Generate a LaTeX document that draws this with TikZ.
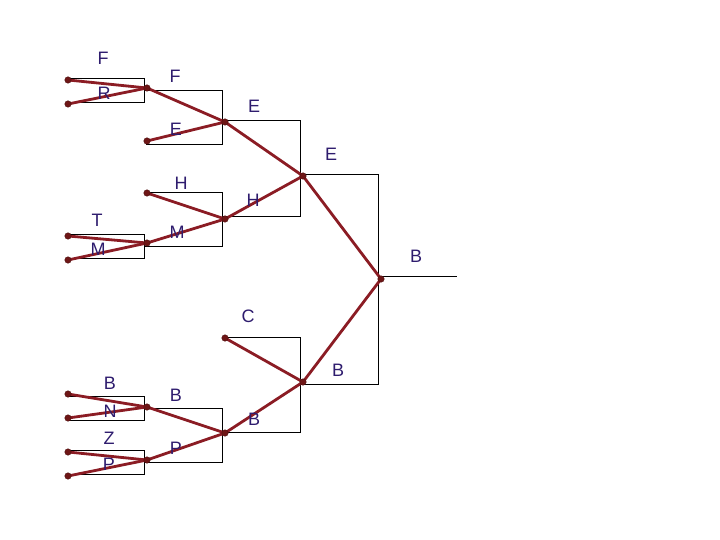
\documentclass[tikz,border=0pt]{standalone}
\usepackage{fontspec}
\setmainfont{Liberation Sans}
\begin{document}
\begin{tikzpicture}[x=1pt,y=-1pt,
  bracket/.style={draw=black,line width=0.8pt},
  redline/.style={draw=redc,line width=2.8pt,line cap=round},
  dot/.style={circle,fill=dotc,draw=dotc!70!black,line width=0.4pt,inner sep=0pt,minimum size=6.5pt},
  lbl/.style={text=lblc,font=\fontsize{18}{21}\selectfont,inner sep=0pt,anchor=center}]
\definecolor{redc}{HTML}{8B1C24}
\definecolor{dotc}{HTML}{6E1616}
\definecolor{lblc}{HTML}{2E1C6E}
\useasboundingbox[fill=white] (0,0) rectangle (720,540);
% bracket lines
\draw[bracket] (67,78) -- (144,78) -- (144,102) -- (67,102);
\draw[bracket] (144,90) -- (222,90) -- (222,144) -- (146,144);
\draw[bracket] (146,192) -- (222,192) -- (222,246) -- (144,246);
\draw[bracket] (67,234) -- (144,234) -- (144,258) -- (67,258);
\draw[bracket] (222,120) -- (300,120) -- (300,216) -- (222,216);
\draw[bracket] (300,174) -- (378,174) -- (378,384) -- (300,384);
\draw[bracket] (378,276) -- (457,276);
\draw[bracket] (223,337) -- (300,337) -- (300,432) -- (222,432);
\draw[bracket] (67,396) -- (144,396) -- (144,420) -- (67,420);
\draw[bracket] (144,408) -- (222,408) -- (222,462) -- (144,462);
\draw[bracket] (67,450) -- (144,450) -- (144,474) -- (67,474);
% points
\coordinate (F0) at (68,80);
\coordinate (R0) at (68,104);
\coordinate (F1) at (147,88);
\coordinate (E1) at (147,141);
\coordinate (E2) at (225,122);
\coordinate (H1) at (147,193);
\coordinate (T0) at (68,236);
\coordinate (M0) at (68,260);
\coordinate (M1) at (147,243);
\coordinate (H2) at (225,219);
\coordinate (E3) at (303,176);
\coordinate (C2) at (225,338);
\coordinate (B0) at (68,394);
\coordinate (N0) at (68,418);
\coordinate (B1) at (147,407);
\coordinate (Z0) at (68,452);
\coordinate (P0) at (68,476);
\coordinate (P1) at (147,460);
\coordinate (B2) at (225,433);
\coordinate (B3) at (303,382);
\coordinate (B4) at (381,279);
% red connectors
\draw[redline] (F0) -- (F1);
\draw[redline] (R0) -- (F1);
\draw[redline] (F1) -- (E2);
\draw[redline] (E1) -- (E2);
\draw[redline] (E2) -- (E3);
\draw[redline] (H1) -- (H2);
\draw[redline] (T0) -- (M1);
\draw[redline] (M0) -- (M1);
\draw[redline] (M1) -- (H2);
\draw[redline] (H2) -- (E3);
\draw[redline] (E3) -- (B4);
\draw[redline] (C2) -- (B3);
\draw[redline] (B0) -- (B1);
\draw[redline] (N0) -- (B1);
\draw[redline] (Z0) -- (P1);
\draw[redline] (P0) -- (P1);
\draw[redline] (B1) -- (B2);
\draw[redline] (P1) -- (B2);
\draw[redline] (B2) -- (B3);
\draw[redline] (B3) -- (B4);
% dots
\foreach \p in {F0,R0,F1,E1,E2,H1,T0,M0,M1,H2,E3,C2,B0,N0,B1,Z0,P0,P1,B2,B3,B4}
  \node[dot] (d\p) at (\p) {};
% labels
\node[lbl] (lF0) at (103,58) {F};
\node[lbl] (lR0) at (104,93) {R};
\node[lbl] (lF1) at (175,76) {F};
\node[lbl] (lE2) at (254,106) {E};
\node[lbl] (lE1) at (176,129) {E};
\node[lbl] (lE3) at (331,154) {E};
\node[lbl] (lH1) at (181,183) {H};
\node[lbl] (lH2) at (253,200) {H};
\node[lbl] (lT0) at (97,220) {T};
\node[lbl] (lM0) at (98,249) {M};
\node[lbl] (lM1) at (177,232) {M};
\node[lbl] (lB4) at (416,256) {B};
\node[lbl] (lC2) at (248,316) {C};
\node[lbl] (lB0) at (110,383) {B};
\node[lbl] (lN0) at (110,411) {N};
\node[lbl] (lB1) at (176,395) {B};
\node[lbl] (lB3) at (338,370) {B};
\node[lbl] (lB2) at (254,419) {B};
\node[lbl] (lZ0) at (109,438) {Z};
\node[lbl] (lP0) at (109,464) {P};
\node[lbl] (lP1) at (176,448) {P};
\end{tikzpicture}
\end{document}
